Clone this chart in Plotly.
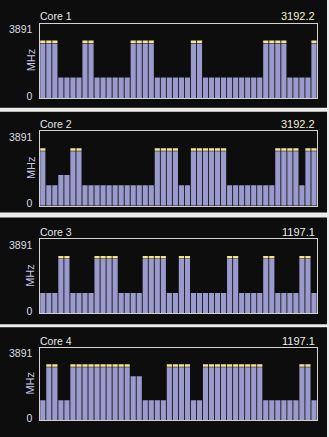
import plotly.graph_objects as go

# ---- data ----
core_names = ["Core 1", "Core 2", "Core 3", "Core 4"]
y_tick_vals = [0, 3891]
y_tick_text = ["0", "3891"]

core1 = [3192.2, 3192.2, 3192.2, 1197.1, 1197.1, 1197.1, 1197.1, 3192.2, 3192.2, 1197.1,
         1197.1, 1197.1, 1197.1, 1197.1, 1197.1, 3192.2, 3192.2, 3192.2, 3192.2, 1197.1,
         1197.1, 1197.1, 1197.1, 1197.1, 1197.1, 3192.2, 3192.2, 1197.1, 1197.1, 1197.1,
         1197.1, 1197.1, 1197.1, 1197.1, 1197.1, 1197.1, 1197.1, 3192.2, 3192.2, 3192.2,
         3192.2, 1197.1, 1197.1, 1197.1, 1197.1, 3192.2]
core2 = [3192.2, 1197.1, 1197.1, 1800.0, 1800.0, 3192.2, 3192.2, 1197.1, 1197.1, 1197.1,
         1197.1, 1197.1, 1197.1, 1197.1, 1197.1, 1197.1, 1197.1, 1197.1, 1197.1, 3192.2,
         3192.2, 3192.2, 3192.2, 1197.1, 1197.1, 3192.2, 3192.2, 3192.2, 3192.2, 3192.2,
         3192.2, 1197.1, 1197.1, 1197.1, 1197.1, 1197.1, 1197.1, 1197.1, 1197.1, 3192.2,
         3192.2, 3192.2, 3192.2, 1197.1, 3192.2, 3192.2]
core3 = [1197.1, 1197.1, 1197.1, 3192.2, 3192.2, 1197.1, 1197.1, 1197.1, 1197.1, 3192.2,
         3192.2, 3192.2, 3192.2, 1197.1, 1197.1, 1197.1, 1197.1, 3192.2, 3192.2, 3192.2,
         3192.2, 1197.1, 1197.1, 3192.2, 3192.2, 1197.1, 1197.1, 1197.1, 1197.1, 1197.1,
         1197.1, 3192.2, 3192.2, 1197.1, 1197.1, 1197.1, 1197.1, 3192.2, 3192.2, 1197.1,
         1197.1, 1197.1, 1197.1, 3192.2, 3192.2, 1197.1]
core4 = [1197.1, 3192.2, 3192.2, 1197.1, 1197.1, 3192.2, 3192.2, 3192.2, 3192.2, 3192.2,
         3192.2, 3192.2, 3192.2, 3192.2, 3192.2, 2650.0, 2650.0, 1197.1, 1197.1, 1197.1,
         1197.1, 3192.2, 3192.2, 3192.2, 3192.2, 1197.1, 1197.1, 3192.2, 3192.2, 3192.2,
         3192.2, 3192.2, 3192.2, 3192.2, 3192.2, 3192.2, 3192.2, 1197.1, 1197.1, 1197.1,
         1197.1, 1197.1, 1197.1, 3192.2, 3192.2, 1197.1]
cores = [core1, core2, core3, core4]
max_freq = 3192.2
current_text = ["3192.2", "3192.2", "1197.1", "1197.1"]

# ---- layout constants (pixels) ----
W, H = 329, 437
panels = [(-5, 108), (112, 214), (219, 327), (330, 445)]
plots = [(23, 98), (132, 207), (241, 316), (351, 424)]
PX_L, PX_R = 39.5, 317.3
Y_MAX = 4356
CAP_GAP, CAP_H = 35, 150

BAR_COLOR = "#9a9acd"
CAP_COLOR = "#f6e48c"
PANEL_BG = "#0d0d0d"
LINE_COLOR = "#d4d4d4"
FONT = "Liberation Sans, Arial, sans-serif"


def px(x):
    return x / W


def py(y):
    return 1 - y / H


fig = go.Figure()
shapes = []
annotations = []

for i, (vals, name) in enumerate(zip(cores, core_names)):
    n = i + 1
    xa = "x" if n == 1 else f"x{n}"
    ya = "y" if n == 1 else f"y{n}"
    idx = list(range(len(vals)))
    fig.add_trace(go.Bar(x=idx, y=vals, marker=dict(color=BAR_COLOR, line=dict(width=0)),
                         xaxis=xa, yaxis=ya, showlegend=False, hoverinfo="y"))
    cap_base = [v + CAP_GAP if v >= max_freq else None for v in vals]
    cap_h = [CAP_H if v >= max_freq else None for v in vals]
    fig.add_trace(go.Bar(x=idx, y=cap_h, base=cap_base,
                         marker=dict(color=CAP_COLOR, line=dict(width=0)),
                         xaxis=xa, yaxis=ya, showlegend=False, hoverinfo="skip"))

    top, bot = plots[i]
    p0, p1 = panels[i]
    shapes.append(dict(type="rect", xref="paper", yref="paper", x0=0, x1=px(327),
                       y0=py(p1), y1=py(p0), fillcolor=PANEL_BG, line=dict(width=0),
                       layer="below"))
    xk = "xaxis" if n == 1 else f"xaxis{n}"
    yk = "yaxis" if n == 1 else f"yaxis{n}"
    fig.update_layout(**{
        xk: dict(domain=[px(PX_L), px(PX_R)], range=[-0.55, len(vals) - 0.45],
                 anchor=ya, showticklabels=False, showgrid=False, zeroline=False,
                 showline=True, mirror=True, linecolor=LINE_COLOR, linewidth=1,
                 ticks="", fixedrange=True),
        yk: dict(domain=[py(bot), py(top)], range=[0, Y_MAX], anchor=xa,
                 tickvals=y_tick_vals, ticktext=y_tick_text, showgrid=False,
                 zeroline=False, showline=True, mirror=True, linecolor=LINE_COLOR,
                 linewidth=1, ticks="", tickfont=dict(size=10.5, color="#dcdce6"),
                 ticklabelshift=-2, ticklabelstandoff=4, fixedrange=True),
    })
    annotations.append(dict(text=name, xref="paper", yref="paper", x=px(38), y=py(top - 7.5),
                            xanchor="left", yanchor="middle", showarrow=False,
                            font=dict(size=10.5, color="#e6e6ee", family=FONT)))
    annotations.append(dict(text=current_text[i], xref="paper", yref="paper", x=px(317),
                            y=py(top - 7.5), xanchor="right", yanchor="middle",
                            showarrow=False,
                            font=dict(size=11, color="#f4f0d8" if i < 2 else "#ececec",
                                      family=FONT)))
    annotations.append(dict(text="MHz", xref="paper", yref="paper", x=px(30.5),
                            y=py((top + bot) / 2 - 1), xanchor="center", yanchor="middle",
                            textangle=-90, showarrow=False,
                            font=dict(size=11, color="#c8c8e6", family=FONT)))

fig.update_layout(width=W, height=H, margin=dict(l=0, r=0, t=0, b=0),
                  paper_bgcolor="#ececec", plot_bgcolor=PANEL_BG,
                  barmode="overlay", bargap=0.14,
                  font=dict(family=FONT, color="#dcdce6"),
                  shapes=shapes, annotations=annotations)

fig.write_html("out.html")
